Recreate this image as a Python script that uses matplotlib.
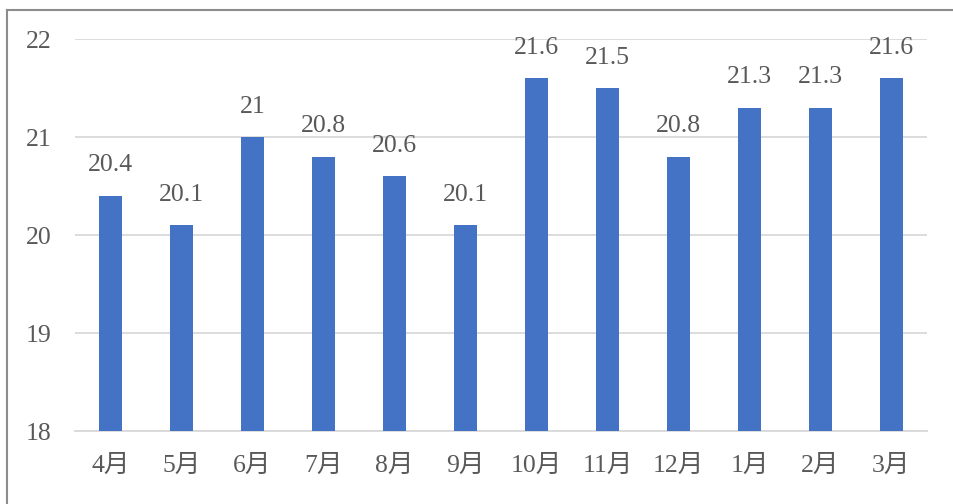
import matplotlib.pyplot as plt
from matplotlib.lines import Line2D

# 月ごとのデータ
months = ['4月', '5月', '6月', '7月', '8月', '9月', '10月', '11月', '12月', '1月', '2月', '3月']
values = [20.4, 20.1, 21.0, 20.8, 20.6, 20.1, 21.6, 21.5, 20.8, 21.3, 21.3, 21.6]
value_labels = ['20.4', '20.1', '21', '20.8', '20.6', '20.1', '21.6', '21.5', '20.8', '21.3', '21.3', '21.6']
y_ticks = [18, 19, 20, 21, 22]

font = ['Liberation Serif', 'Noto Sans CJK JP']
text_color = '#595959'
fsize = 18.5

fig = plt.figure(figsize=(9.54, 5.04), dpi=100)
ax = fig.add_axes([75 / 954, 1 - 431 / 504, 852 / 954, 392 / 504])

x = range(len(months))
ax.bar(x, values, width=0.31, color='#4472C4', zorder=3)

# 値ラベル
for i, (v, lab) in enumerate(zip(values, value_labels)):
    ax.annotate(lab, (i, v), xytext=(0, 17.5), textcoords='offset points',
                ha='center', va='baseline', fontsize=fsize, color=text_color, family=font)

ax.set_xlim(-0.5, len(months) - 0.5)
ax.set_ylim(18, 22)
ax.set_yticks(y_ticks)
ax.set_xticks(list(x))
ax.set_xticklabels(months)

ax.grid(axis='y', color='#d9d9d9', linewidth=1.3, zorder=0)
for s in ['top', 'right', 'left']:
    ax.spines[s].set_visible(False)
ax.spines['bottom'].set_color('#d9d9d9')
ax.spines['bottom'].set_linewidth(1.3)
ax.tick_params(length=0)
ax.tick_params(axis='y', pad=17)
ax.tick_params(axis='x', pad=17)
for lbl in ax.get_xticklabels() + ax.get_yticklabels():
    lbl.set_family(font)
    lbl.set_fontsize(fsize)
    lbl.set_color(text_color)

# 外枠(左と上のみ見える)
fig.add_artist(Line2D([7.5 / 954, 7.5 / 954], [0, 1 - 10 / 504], transform=fig.transFigure,
                      color='#8c8c8c', linewidth=1.5))
fig.add_artist(Line2D([7.5 / 954, 1], [1 - 10 / 504, 1 - 10 / 504], transform=fig.transFigure,
                      color='#8c8c8c', linewidth=1.5))

plt.savefig('out.png', dpi=100)
